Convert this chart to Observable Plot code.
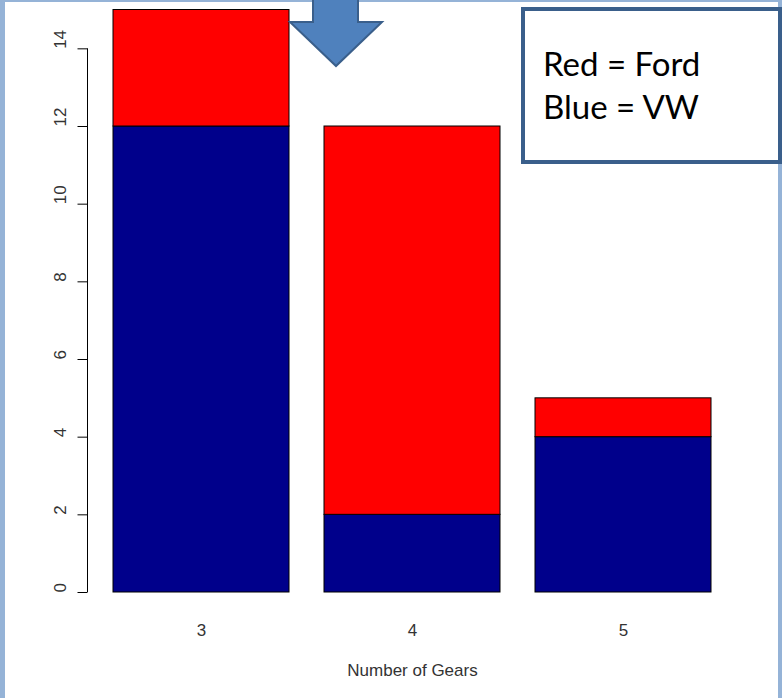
<!DOCTYPE html>
<html>
<head>
<meta charset="utf-8">
<script src="https://cdn.jsdelivr.net/npm/d3@7"></script>
<script src="https://cdn.jsdelivr.net/npm/@observablehq/plot@0.6"></script>
<style>
  html, body { margin: 0; padding: 0; background: #fff; }
  #wrap { position: relative; width: 782px; height: 698px; overflow: hidden; background: #fff; }
  #chart { position: absolute; left: 0; top: 0; }
  .frame { position: absolute; background: #95b3d7; }
  #note {
    position: absolute; left: 521px; top: 7px; width: 261px; height: 157px;
    box-sizing: border-box; border: 4px solid #3a5f8b; background: #fff;
    font-family: Lato, "Open Sans", sans-serif; font-size: 33px; line-height: 43px;
    color: #000; padding: 31px 0 0 18px;
  }
  #arrow { position: absolute; left: 0; top: 0; }
</style>
</head>
<body>
<div id="wrap">
  <div id="chart"></div>
  <div class="frame" style="left:0;top:0;width:5px;height:698px"></div>
  <div class="frame" style="left:0;top:0;width:782px;height:2px"></div>
  <div class="frame" style="left:778px;top:0;width:4px;height:698px"></div>
  <svg id="arrow" width="782" height="100">
    <polygon points="313,-5 358,-5 358,22 382,22 336,66 290,22 313,22"
      fill="#4f81bd" stroke="#3a5f8b" stroke-width="2" stroke-linejoin="miter"/>
  </svg>
  <div id="note">Red = Ford<br>Blue = VW</div>
</div>
<script>
// Data
const gears = ["3", "4", "5"];
const vwCounts = [12, 2, 4];
const fordCounts = [3, 10, 1];
const brands = ["VW", "Ford"];
const brandColors = ["#00008b", "#ff0000"];
const yTicks = [0, 2, 4, 6, 8, 10, 12, 14];
const xLabel = "Number of Gears";

const rows = [];
gears.forEach((g, i) => {
  rows.push({gear: g, brand: "VW", count: vwCounts[i]});
  rows.push({gear: g, brand: "Ford", count: fordCounts[i]});
});

const axisLine = (index, scales, values, dimensions) => {
  const x = dimensions.marginLeft - 24.5;
  return d3.create("svg:line")
    .attr("x1", x).attr("x2", x)
    .attr("y1", scales.y(0)).attr("y2", scales.y(14))
    .attr("stroke", "#000").attr("stroke-width", 1)
    .node();
};

const chart = Plot.plot({
  width: 782,
  height: 698,
  marginLeft: 112,
  marginRight: 70,
  marginTop: 9.5,
  marginBottom: 106,
  style: {fontFamily: "'Liberation Sans', Arial, sans-serif", background: "transparent"},
  x: {domain: gears, paddingInner: 0.1667, paddingOuter: 0, axis: null},
  y: {domain: [0, 15], axis: null},
  color: {domain: brands, range: brandColors},
  marks: [
    Plot.barY(rows, {x: "gear", y: "count", fill: "brand", stroke: "#000", strokeWidth: 1, order: null}),
    Plot.axisY({ticks: yTicks, tickSize: 10, dx: -24.5, tickFormat: () => "", label: null, stroke: "#000"}),
    axisLine,
    Plot.text(yTicks, {y: d => d, frameAnchor: "left", dx: -51.5, rotate: -90, lineAnchor: "middle", fontSize: 17, fill: "#333"}),
    Plot.text(gears, {x: d => d, frameAnchor: "bottom", dy: 38, lineAnchor: "middle", fontSize: 17, fill: "#333"}),
    Plot.text([xLabel], {frameAnchor: "bottom", dy: 78, lineAnchor: "middle", fontSize: 17, fill: "#333"})
  ]
});
document.getElementById("chart").appendChild(chart);
</script>
</body>
</html>
